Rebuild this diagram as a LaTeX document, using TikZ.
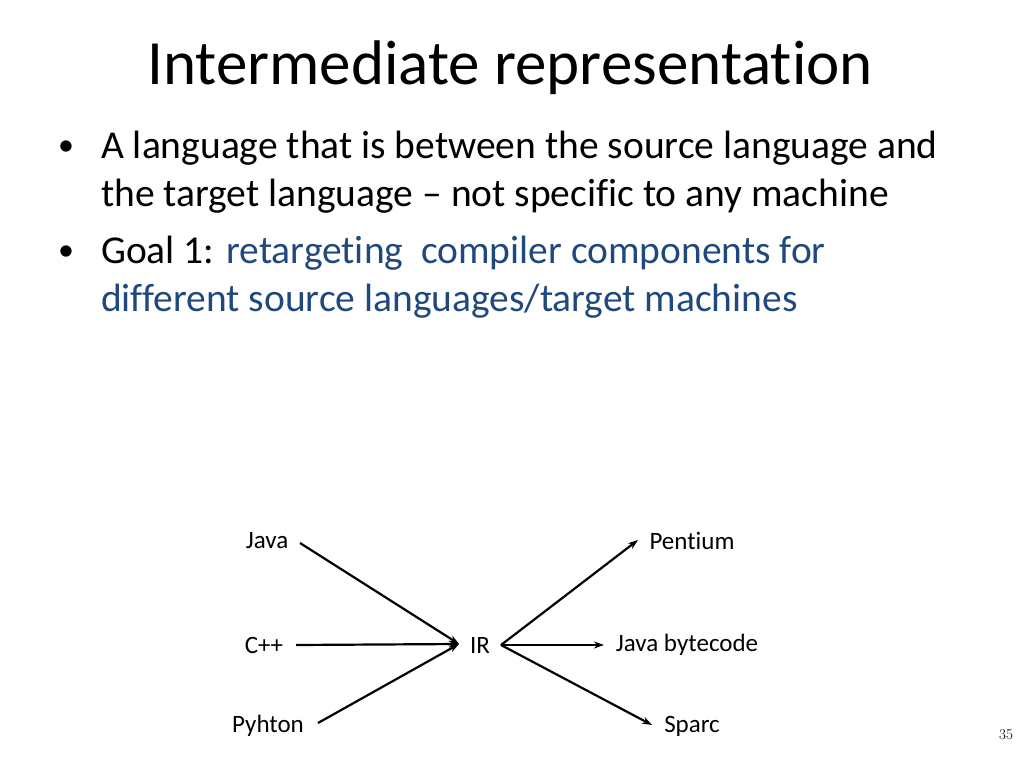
\documentclass[tikz,border=0pt]{standalone}
\usepackage{fontspec}
\setmainfont[RawFeature=-liga]{Carlito}
\usetikzlibrary{arrows.meta}
\definecolor{slideblue}{RGB}{31,73,125}
\begin{document}
\begin{tikzpicture}[x=1pt,y=-1pt,>={Stealth[length=10pt,width=7pt]}]
\tikzset{
  lbl/.style={font=\fontsize{25}{30}\selectfont,inner sep=2pt},
  line/.style={anchor=west,font=\fontsize{39.5}{46}\selectfont,inner sep=0pt},
  arr/.style={->,line width=2.2pt}
}
\useasboundingbox (0,0) rectangle (1024,768);

% Title
\node[font=\fontsize{63}{72}\selectfont] (title) at (510,68) {Intermediate representation};

% Bullets
\node[line,font=\fontsize{32}{38}\selectfont] (b1) at (58,148) {•};
\node[line] (l1) at (101,148) {A language that is between the source language and};
\node[line] (l2) at (101,196) {the target language -- not specific to any machine};
\node[line,font=\fontsize{32}{38}\selectfont] (b2) at (58,253) {•};
\node[line] (l3) at (101,253) {Goal 1: \textcolor{slideblue}{retargeting\ \ compiler components for}};
\node[line,text=slideblue] (l4) at (101,301) {different source languages/target machines};

% The diagram
\node[lbl] (java) at (267,541) {Java};
\node[lbl] (cpp) at (264,645) {C++};
\node[lbl] (python) at (268,726) {Pyhton};
\node[lbl] (ir) at (480,645) {IR};
\node[lbl] (pentium) at (692,541) {Pentium};
\node[lbl] (bytecode) at (687,645) {Java bytecode};
\node[lbl] (sparc) at (692,726) {Sparc};

\coordinate (irin) at (459,644);
\coordinate (irout) at (501,645);
\draw[arr] (300,543) coordinate (javaout) -- (irin);
\draw[arr] (296,645) coordinate (cppout) -- (irin);
\draw[arr] (318,723) coordinate (pyout) -- (irin);
\draw[arr] (irout) -- (638,540) coordinate (pentin);
\draw[arr] (irout) -- (604,645) coordinate (bytein);
\draw[arr] (irout) -- (652,725) coordinate (sparcin);

\node[font=\fontfamily{lmr}\fontsize{15}{17}\selectfont] (num) at (1006,735) {35};
\end{tikzpicture}
\end{document}
